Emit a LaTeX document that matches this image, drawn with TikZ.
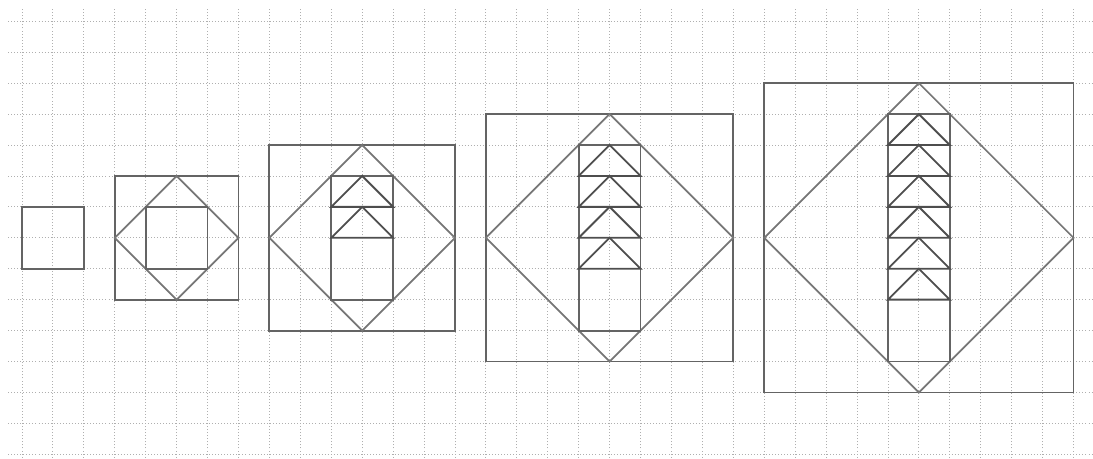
\documentclass[tikz,border=0pt]{standalone}
\usepackage{tikz}
\usetikzlibrary{calc}
\usepackage{xcolor}
\definecolor{GridGray}  {HTML}{AFAFAF}
\definecolor{SqGray}    {HTML}{646464}
\definecolor{DiaGray}   {HTML}{767676}
\definecolor{TriGray}   {HTML}{4E4E4E}
\tikzset{
  % background paper
  paper/.style={GridGray, dotted, line width=0.8pt},
  % figure lines
  sqline/.style ={draw=SqGray,  line width=1.7pt},
  dialine/.style={draw=DiaGray, line width=1.6pt},
  triline/.style={draw=TriGray, line width=1.7pt, line join=miter},
}

\begin{document}
\begin{tikzpicture}
\useasboundingbox (-0.711,-14.15) rectangle (34.63,0.689);
\clip (-0.711,-14.15) rectangle (34.63,0.689);
\draw[paper] (-0.45,-14.3) grid (34.8,0.4);

% first figure: just the square
\coordinate (c1) at (1,-7);
\draw[sqline] ($(c1)+(-1,-1)$) rectangle ($(c1)+(1,1)$);

% the other figures grow by one cell per side
\foreach \n/\cx in {2/5, 3/11, 4/19, 5/29} {
  \coordinate (c\n) at (\cx,-7);
  \draw[sqline] ($(c\n)+(-\n,-\n)$) rectangle ($(c\n)+(\n,\n)$);
  \draw[dialine] ($(c\n)+(0,\n)$) -- ($(c\n)+(\n,0)$) -- ($(c\n)+(0,-\n)$)
                 -- ($(c\n)+(-\n,0)$) -- cycle;
  \draw[sqline] ($(c\n)+(-1,1-\n)$) rectangle ($(c\n)+(1,\n-1)$);
  \pgfmathtruncatemacro{\m}{2*(\n-2)}
  \ifnum\m>0
    \foreach \k in {1,...,\m} {
      \draw[triline] ($(c\n)+(-1,\n-\k-1)$) -- ($(c\n)+(0,\n-\k)$)
                     -- ($(c\n)+(1,\n-\k-1)$) -- cycle;
    }
  \fi
}
\end{tikzpicture}
\end{document}
